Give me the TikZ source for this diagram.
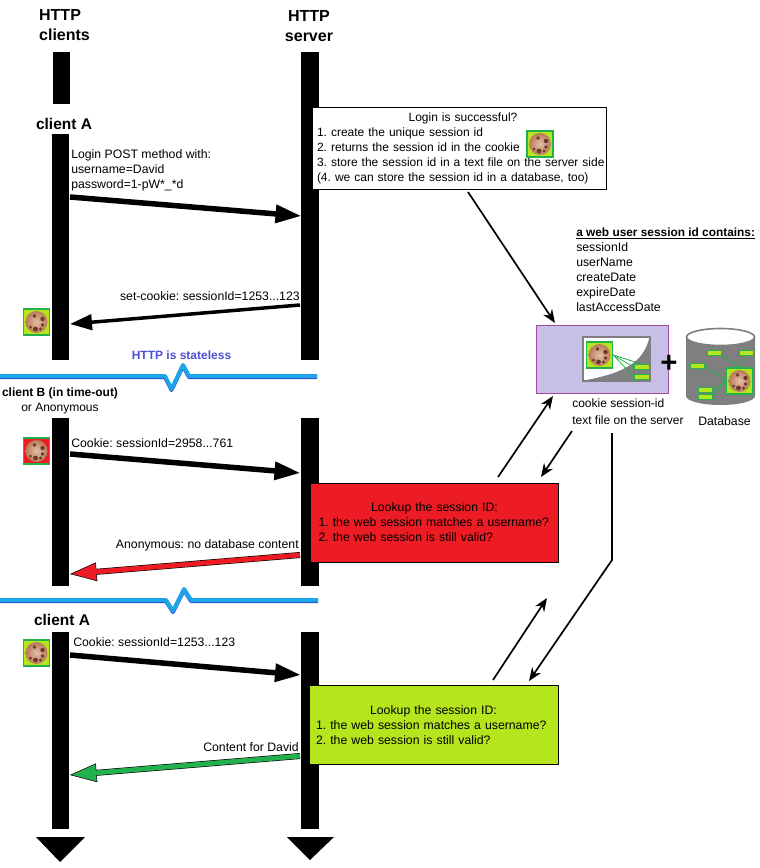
\documentclass[tikz,border=0pt]{standalone}
\usepackage{fontspec}
\setmainfont{Liberation Sans}
\usepackage{tikz}
\usetikzlibrary{arrows.meta}
\usetikzlibrary{positioning}
\AtBeginDocument{\frenchspacing}
\def\px{0.75pt}
\definecolor{ckgreen}{HTML}{B5E61D}
\definecolor{ckline}{HTML}{22B14C}
\definecolor{ckred}{HTML}{ED1C24}
\definecolor{ckbrown}{HTML}{B97A57}
\definecolor{cklight}{HTML}{E3BFA8}
\definecolor{ckspot}{HTML}{6A3A28}
\definecolor{dbgrey}{HTML}{7F7F7F}
\definecolor{filepurple}{HTML}{C8BFE7}
\definecolor{fileedge}{HTML}{A349A4}
\definecolor{brkblue}{HTML}{1EA5E8}
\definecolor{brkdark}{HTML}{2F46D8}
\definecolor{statelessblue}{HTML}{4A50D0}
\tikzset{
  pics/cookie/.style={code={
    \node[draw=ckline,line width=1.5*\px,fill=#1,inner sep=0pt,minimum size=26*\px] (-box) at (0,0) {};
    \node[circle,inner sep=0pt,minimum size=22*\px,inner color=cklight,outer color=ckbrown] (-ball) at (0,0) {};
    \foreach \sx/\sy/\sr in {-2/-6/1.8,6/-3/2.2,6/3/1.8,-1/7/2.4,4/7/1.6,-6/5/1.5}
      \fill[ckspot] (\sx,\sy) circle (\sr*\px);
  }}
}
\begin{document}
\begin{tikzpicture}[x=\px,y=-\px,font=\fontsize{9.2}{11.25}\selectfont]
\tikzstyle{life}=[fill=black,inner sep=0pt,minimum width=17.5*\px]
\tikzstyle{txt}=[inner sep=0pt,anchor=west,align=left]
\tikzstyle{txtr}=[inner sep=0pt,anchor=east,align=right]
\tikzstyle{head}=[inner sep=0pt,font=\fontsize{12}{15}\selectfont\bfseries]
\tikzstyle{clientname}=[inner sep=0pt,font=\fontsize{11.6}{13}\selectfont\bfseries]
\tikzstyle{textbox}=[draw=black,line width=1*\px,inner xsep=5*\px,inner ysep=0pt,align=left]
\tikzstyle{bigarrow}=[line width=5.5*\px,draw=black,-{Triangle[length=19.5pt,width=13pt]}]
\tikzstyle{midarrow}=[line width=3.5*\px,draw=black,-{Triangle[length=16.5pt,width=11.5pt]}]
\tikzstyle{redarrow}=[line width=6*\px,draw=black,-{Triangle[length=20pt,width=14pt,fill=ckred,line width=0.4pt]},postaction={draw=ckred,line width=4.8*\px,-,shorten >=16pt}]
\tikzstyle{greenarrow}=[line width=6*\px,draw=black,-{Triangle[length=20pt,width=14pt,fill=ckline,line width=0.4pt]},postaction={draw=ckline,line width=4.8*\px,-,shorten >=16pt}]
\tikzstyle{thinarrow}=[line width=1.7*\px,draw=black,-{Stealth[length=10pt,width=8pt]}]
\tikzstyle{brk}=[line width=4*\px,draw=brkblue,line join=round]
\tikzstyle{brkunder}=[line width=4*\px,draw=brkdark,line join=round,yshift=-1*\px]
\tikzstyle{bar}=[draw=ckline,line width=1*\px,fill=ckgreen,inner sep=0pt,minimum width=14*\px,minimum height=5*\px]
\tikzstyle{link}=[draw=ckline,line width=0.8*\px]

\useasboundingbox (0,0) rectangle (760,868);

\node[life,minimum height=52*\px]	(cliTop)	at (61.5,78)	{};
\node[life,minimum height=226*\px]	(cliA)		at (60.5,247)	{};
\node[life,minimum height=168*\px]	(cliB)		at (60.5,502)	{};
\node[life,minimum height=197*\px]	(cliC)		at (60.5,730.5)	{};
\node[life,minimum height=308*\px]	(srvA)		at (310,206)	{};
\node[life,minimum height=168*\px]	(srvB)		at (310,502)	{};
\node[life,minimum height=197*\px]	(srvC)		at (310,730.5)	{};
\fill[black] (36,837) -- (85,837) -- (60,862) -- cycle;
\fill[black] (287,837) -- (334,837) -- (310,860) -- cycle;

\node[head,align=left]		(clientsHead)	at (64.5,25)	{HTTP\\clients};
\node[head,align=center]	(serverHead)	at (309,26)	{HTTP\\server};
\node[clientname]	(nameA)	at (64,124)	{client A};
\node[clientname]	(nameC)	at (62,620)	{client A};
\node[inner sep=0pt,align=center,font=\fontsize{9}{11.25}\selectfont]	(nameB)	at (60,401)	{\textbf{client B (in time-out)}\\or Anonymous};

\coordinate (loginA) at (70,197);
\coordinate (loginS) at (301.5,216);
\coordinate (setS) at (300,305);
\coordinate (setA) at (70,324);
\coordinate (cookBA) at (70,454);
\coordinate (cookBS) at (300.5,473);
\coordinate (anonS) at (300,555);
\coordinate (anonA) at (70,574);
\coordinate (cookCA) at (70,655);
\coordinate (cookCS) at (301,675);
\coordinate (contS) at (300,756);
\coordinate (contA) at (70,775);

\path	(loginA)	edge[bigarrow]		(loginS)
	(setS)		edge[midarrow]		(setA)
	(cookBA)	edge[bigarrow]		(cookBS)
	(anonS)		edge[redarrow]		(anonA)
	(cookCA)	edge[bigarrow]		(cookCS)
	(contS)		edge[greenarrow]	(contA);

\node[txt]	(loginTxt)	at (71,170)	{Login POST method with:\\username=David\\password=1-pW*\_*d};
\node[txtr]	(setTxt)	at (300,296)	{set-cookie: sessionId=1253...123};
\node[txt]	(cookBTxt)	at (71,443)	{Cookie: sessionId=2958...761};
\node[txtr]	(anonTxt)	at (299,545)	{Anonymous: no database content};
\node[txt]	(cookCTxt)	at (73,642)	{Cookie: sessionId=1253...123};
\node[txtr]	(contTxt)	at (299,747)	{Content for David};

\draw[brkunder] (0,376) -- (165,376) -- (171.5,389) -- (183,365) -- (189,376) -- (317,376);
\draw[brk] (0,376) -- (165,376) -- (171.5,389) -- (183,365) -- (189,376) -- (317,376);
\draw[brkunder] (0,600) -- (166,600) -- (173,611) -- (184,589) -- (191,600) -- (318,600);
\draw[brk] (0,600) -- (166,600) -- (173,611) -- (184,589) -- (191,600) -- (318,600);
\node[inner sep=0pt,font=\fontsize{9}{11.25}\selectfont\bfseries,text=statelessblue]	(stateless)	at (181.5,355)	{HTTP is stateless};

\node[textbox,fill=white,text width=284*\px,minimum height=82*\px,font=\fontsize{9}{11.25}\selectfont]	(loginBox)	at (459,148)
	{\makebox[\linewidth]{\hspace{6pt}Login is successful?}\\1. create the unique session id\\2. returns the session id in the cookie\\\makebox[\linewidth][l]{3. store the session id in a text file on the server side}\\(4. we can store the session id in a database, too)\par\vspace{-3pt}};
\pic (ckLogin) at (540,144) {cookie=ckgreen};

\node[textbox,fill=ckred,inner xsep=8*\px,text width=232*\px,minimum height=79*\px]	(redBox)	at (434.5,522.5)
	{\makebox[\linewidth]{Lookup the session ID:}\\1. the web session matches a username?\\2. the web session is still valid?\par\vspace{9.5pt}};
\node[textbox,fill=ckgreen,inner xsep=7*\px,text width=235*\px,minimum height=79*\px]	(greenBox)	at (433.5,725)
	{\makebox[\linewidth]{Lookup the session ID:}\\1. the web session matches a username?\\2. the web session is still valid?\par\vspace{6.5pt}};

\pic (ckA) at (36.5,322) {cookie=ckgreen};
\pic (ckB) at (36.5,451) {cookie=ckred};
\pic (ckC) at (36.5,653) {cookie=ckgreen};

\node[txt]	(sessionTxt)	at (576,269.5)	{\fontsize{8.9}{11.25}\selectfont\textbf{\underline{a web user session id contains:}}\\\fontsize{9.2}{11.25}\selectfont sessionId\\userName\\createDate\\expireDate\\lastAccessDate};

\node[draw=fileedge,line width=1*\px,fill=filepurple,inner sep=0pt,minimum width=132*\px,minimum height=68*\px]	(fileBox)	at (602,359)	{};
\node[draw=dbgrey,line width=1.3*\px,fill=white,inner sep=0pt,minimum width=67*\px,minimum height=44*\px]	(filePaper)	at (616.5,359)	{};
\fill[dbgrey] (649.5,337.5) .. controls (644,358) and (632,372) .. (583.5,380.5) -- (649.5,380.5) -- cycle;
\pic (ckFile) at (599.5,355) {cookie=ckgreen};
\node[bar]	(fileBarA)	[minimum width=15*\px]	at (641.5,367)	{};
\node[bar]	(fileBarB)	[minimum width=15*\px]	at (641.5,376.5)	{};
\coordinate (fileOut) at (ckFile-box.east);
\path[link]	(fileOut)	edge	(fileBarA.west)
		(fileOut)	edge	(fileBarB.west)
		(fileOut)	edge	(fileBarA.north);
\node[inner sep=0pt,font=\fontsize{22}{24}\selectfont\bfseries]	(plus)	at (669,364)	{+};

\fill[dbgrey] (686,337) -- (686,396) arc[start angle=180,end angle=0,x radius=34.5,y radius=9] -- (755,337) -- cycle;
\draw[draw=dbgrey,line width=1.6*\px,fill=white] (720.5,337) ellipse[x radius=34,y radius=8.5];
\pic (ckDb) at (739.5,381) {cookie=ckgreen};
\node[bar]	(dbBarA)	at (714,352.5)	{};
\node[bar]	(dbBarB)	at (746,352.5)	{};
\node[bar]	(dbBarC)	at (697,365.5)	{};
\node[bar]	(dbBarD)	at (705.5,390)	{};
\node[bar]	(dbBarE)	at (705.5,396.5)	{};
\path[link]	(dbBarA.south east)	edge	(ckDb-box.north)
		(dbBarB.south)		edge	(ckDb-box.north)
		(dbBarC.east)		edge	(ckDb-box.west)
		(dbBarD.east)		edge	(ckDb-box.west)
		(dbBarE.east)		edge	(ckDb-box.west);

\node[txt,font=\fontsize{9}{11.25}\selectfont]	(fileTxt)	at (572,411.5)	{cookie session-id\\[1.5pt]text file on the server};
\node[inner sep=0pt]	(dbTxt)	at (724.5,421)	{Database};

\coordinate (loginOut) at (468,192);
\coordinate (fileIn) at (555,323);
\coordinate (redOut) at (498,477);
\coordinate (fileInB) at (553,396);
\coordinate (fileOutB) at (572,431);
\coordinate (redIn) at (541,477);
\coordinate (fileOutC) at (612,433);
\coordinate (fileBend) at (612,560);
\coordinate (greenIn) at (529,681);
\coordinate (greenOut) at (493,680);
\coordinate (upEnd) at (547,598);
\path	(loginOut)	edge[thinarrow]	(fileIn)
	(redOut)	edge[thinarrow]	(fileInB)
	(fileOutB)	edge[thinarrow]	(redIn)
	(greenOut)	edge[thinarrow]	(upEnd);
\draw[thinarrow] (fileOutC) -- (fileBend) -- (greenIn);
\end{tikzpicture}
\end{document}
